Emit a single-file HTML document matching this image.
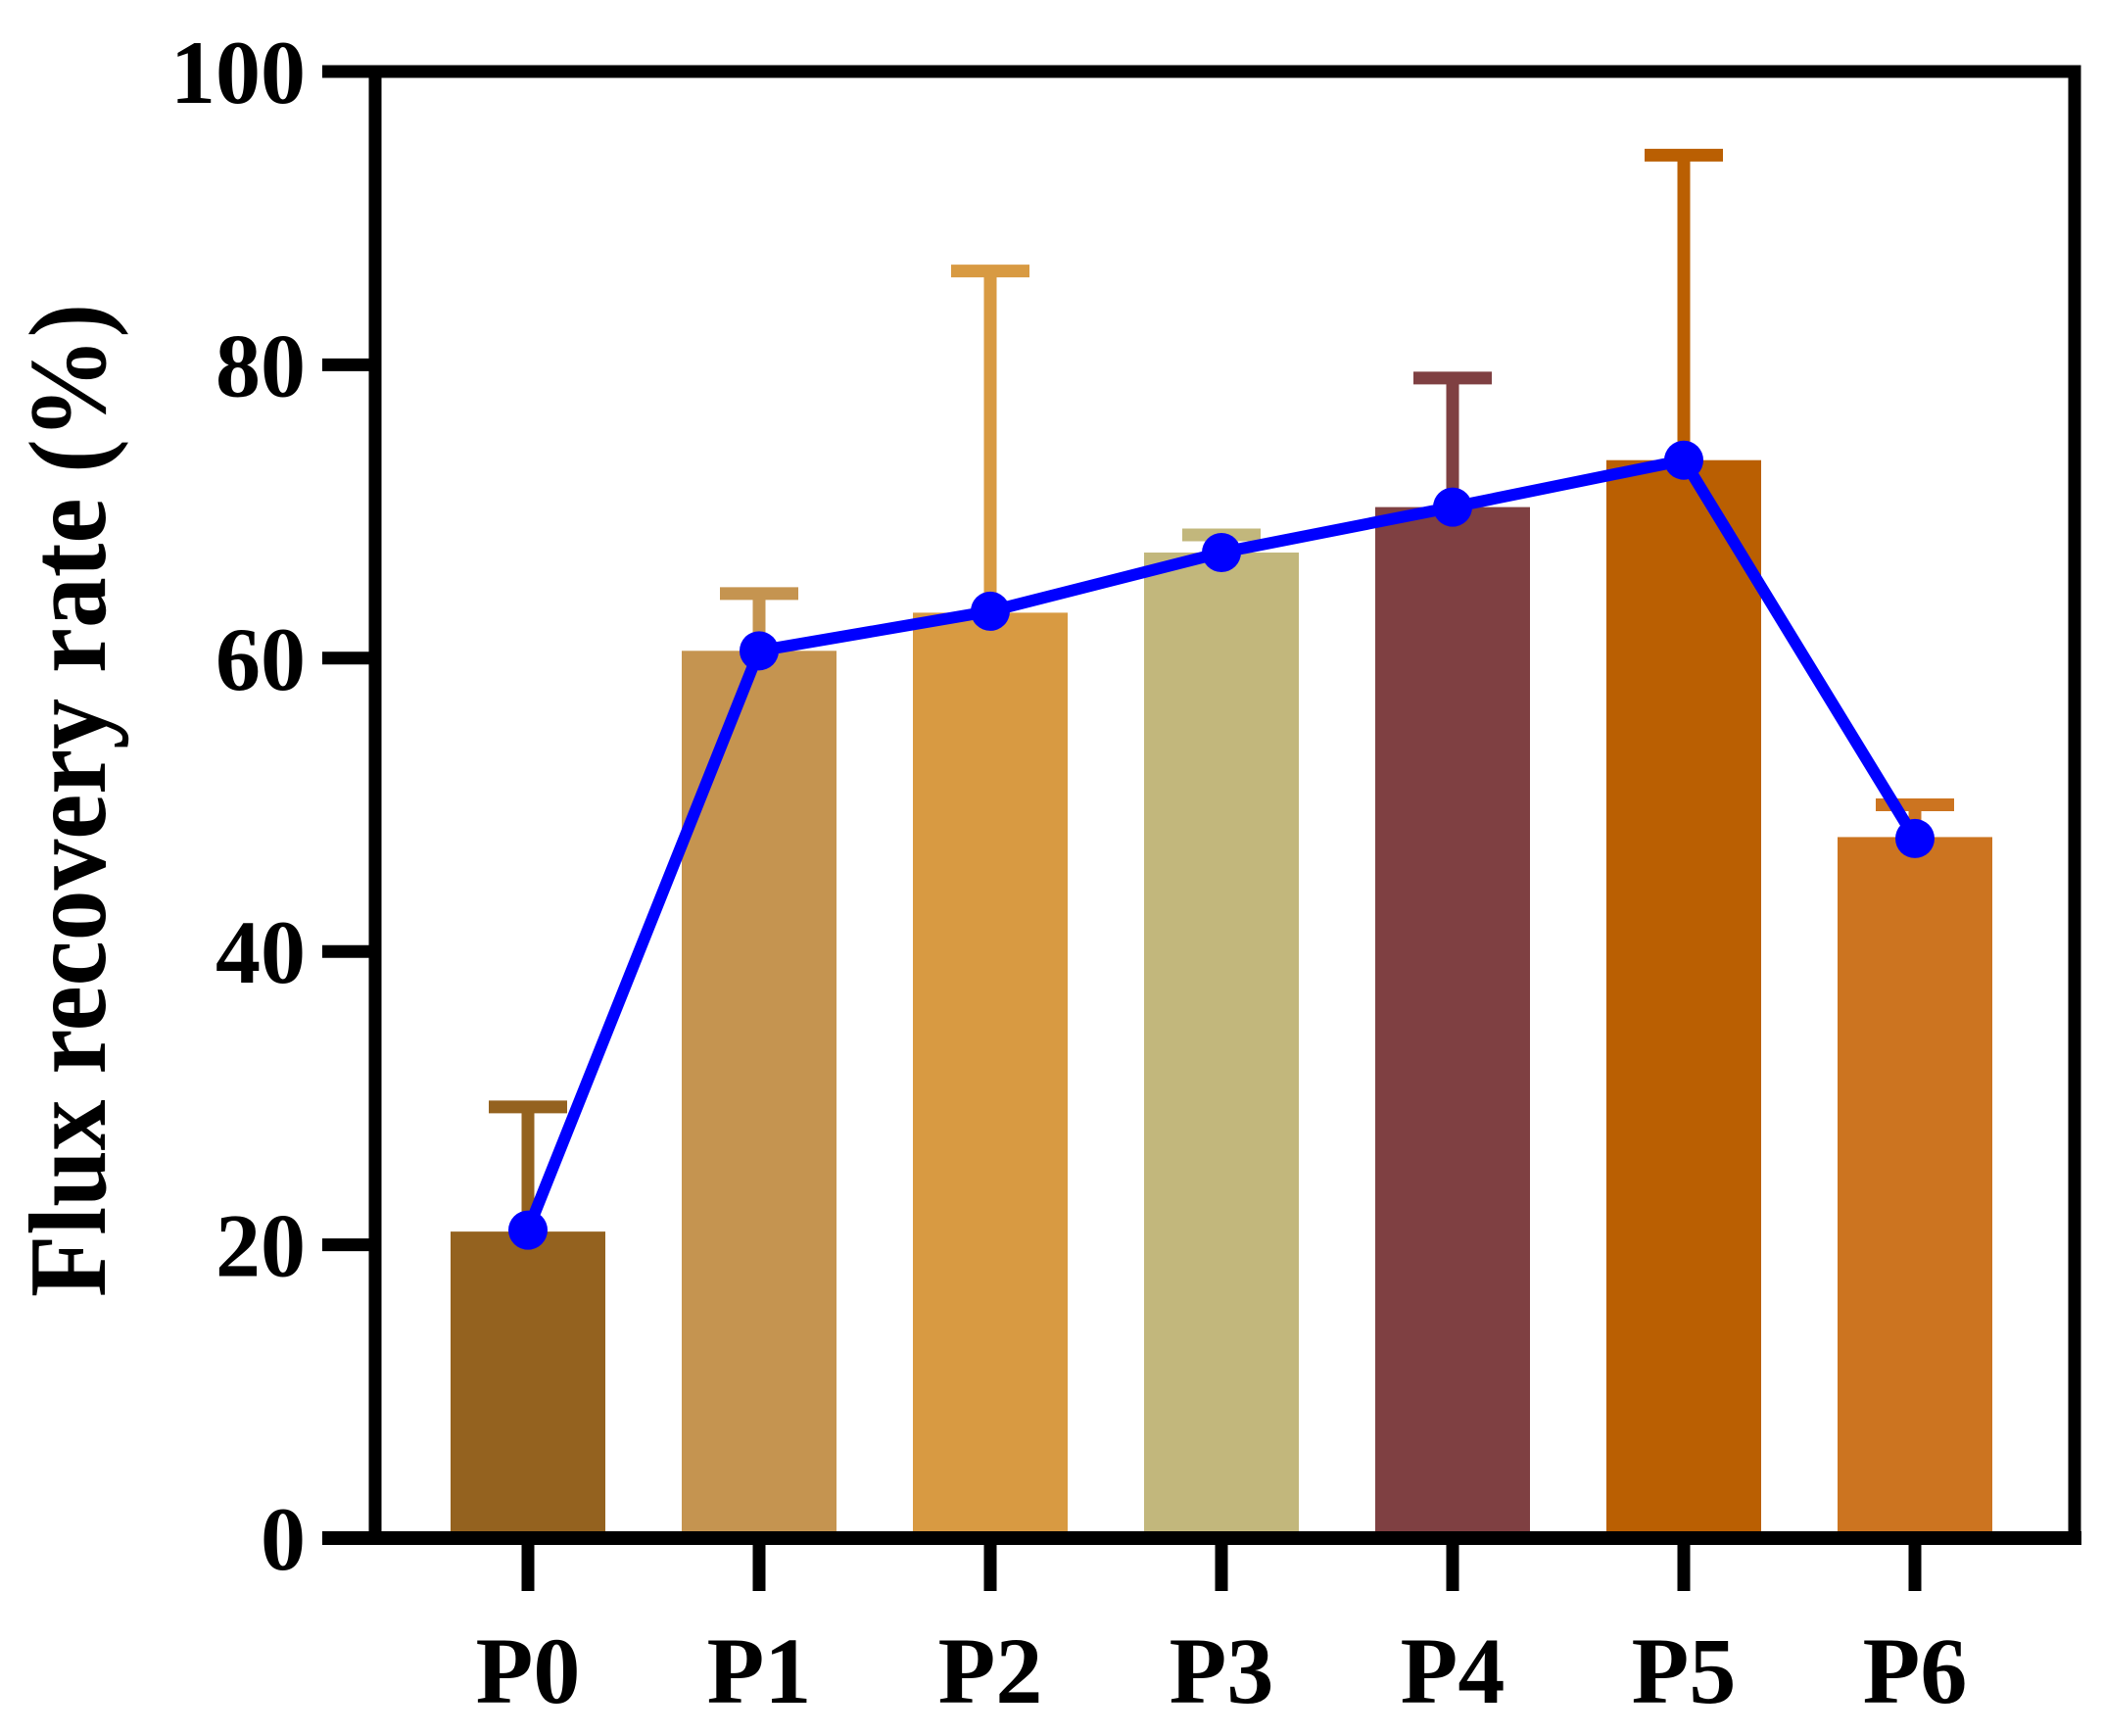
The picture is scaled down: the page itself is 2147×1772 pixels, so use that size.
<!DOCTYPE html>
<html><head><meta charset="utf-8"><style>
html,body{margin:0;padding:0;background:#fff;}
svg{display:block;}
text{font-family:"Liberation Serif",serif;font-weight:bold;fill:#000;}
</style></head>
<body>
<svg id="chart" width="2147" height="1772" viewBox="0 0 2147 1772" xmlns="http://www.w3.org/2000/svg">
<g id="bars"></g>
<g id="errs"></g>
<g id="line"></g>
<g id="axes"></g>
<text transform="translate(107,817) rotate(-90)" text-anchor="middle" font-size="112" textLength="1014" lengthAdjust="spacingAndGlyphs">Flux recovery rate (%)</text>
</svg>
<script>
const categories = ["P0","P1","P2","P3","P4","P5","P6"];
const barValues = [20.9, 60.5, 63.1, 67.2, 70.3, 73.5, 47.8];
const errTops = [29.4, 64.4, 86.4, 68.4, 79.1, 94.3, 50.0];
const lineValues = [21.0, 60.5, 63.2, 67.2, 70.3, 73.5, 47.7];
const yTicks = [0, 20, 40, 60, 80, 100];
const colors = ["#94621f","#c59450","#d89a42","#c2b77c","#7f4042","#ba5f02","#cc7420"];

const NS = "http://www.w3.org/2000/svg";
const y0 = 1570, y100 = 73;
function yS(v){ return y0 - (y0 - y100) * v / 100; }
function xS(i){ return 539 + 236 * i; }
const barW = 158;
function mk(tag, attrs, parent){
  const e = document.createElementNS(NS, tag);
  for (const k in attrs) e.setAttribute(k, attrs[k]);
  parent.appendChild(e);
  return e;
}
const gB = document.getElementById('bars'), gE = document.getElementById('errs'),
      gL = document.getElementById('line'), gA = document.getElementById('axes');

categories.forEach((c, i) => {
  const r = mk('rect', {x: xS(i) - barW/2, y: yS(barValues[i]), width: barW, height: yS(0) - yS(barValues[i]), fill: colors[i]}, gB);
  
  
  const s = mk('line', {x1: xS(i), x2: xS(i), y1: yS(barValues[i]), y2: yS(errTops[i]), stroke: colors[i], 'stroke-width': 13}, gE);
  
  
  const cap = mk('line', {x1: xS(i) - 40, x2: xS(i) + 40, y1: yS(errTops[i]), y2: yS(errTops[i]), stroke: colors[i], 'stroke-width': 13}, gE);
  
  
});

const pts = lineValues.map((v, i) => xS(i) + ',' + yS(v)).join(' ');
const pl = mk('polyline', {points: pts, fill: 'none', stroke: '#0000ff', 'stroke-width': 12, 'stroke-linejoin': 'round'}, gL);


lineValues.forEach((v, i) => {
  const m = mk('circle', {cx: xS(i), cy: yS(v), r: 20, fill: '#0000ff'}, gL);
  
  
});

// frame
const fr = mk('rect', {x: 383, y: yS(100), width: 2118 - 383, height: yS(0) - yS(100), fill: 'none', stroke: '#000', 'stroke-width': 13}, gA);


const bx = mk('line', {x1: 329, x2: 2125, y1: yS(0), y2: yS(0), stroke: '#000', 'stroke-width': 14}, gA);



yTicks.forEach(t => {
  const tl = mk('line', {x1: 329, x2: 383, y1: yS(t), y2: yS(t), stroke: '#000', 'stroke-width': 13}, gA);
  
  
  const tx = mk('text', {x: 312, y: yS(t) + 32, 'text-anchor': 'end', 'font-size': 92}, gA);
  tx.textContent = t;
  
  
});
categories.forEach((c, i) => {
  const tl = mk('line', {x1: xS(i), x2: xS(i), y1: yS(0), y2: 1624, stroke: '#000', 'stroke-width': 13}, gA);
  
  
  const tx = mk('text', {x: xS(i), y: 1738, 'text-anchor': 'middle', 'font-size': 96}, gA);
  tx.textContent = c;
  
  
});
</script>
</body></html>
